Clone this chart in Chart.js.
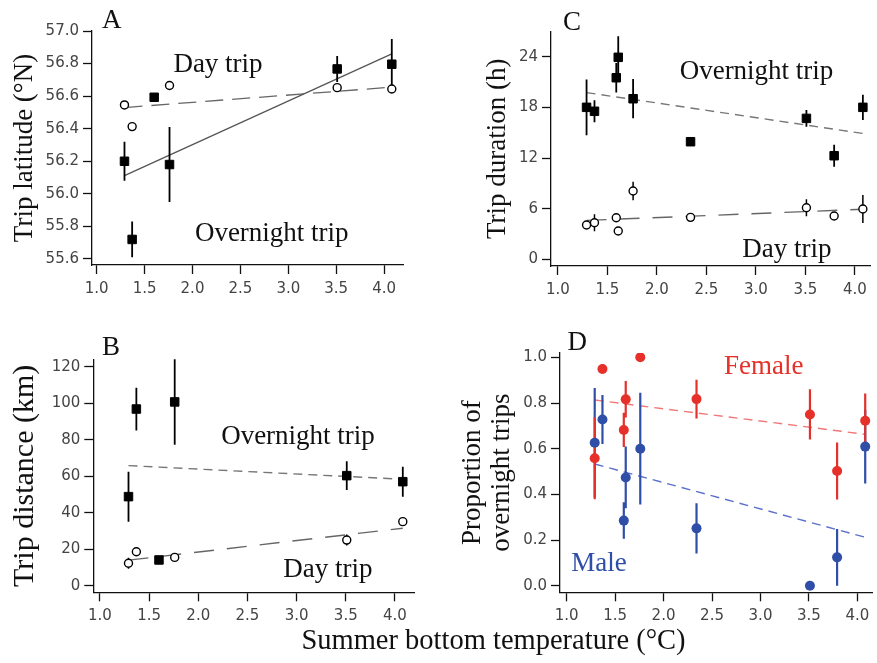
<!DOCTYPE html>
<html><head><meta charset="utf-8">
<script src="https://cdn.jsdelivr.net/npm/chart.js@4.4.1/dist/chart.umd.min.js"></script>
<style>
html,body{margin:0;padding:0;background:#fff;width:877px;height:663px;overflow:hidden;}
.panel{position:absolute;}
#xtitle{position:absolute;left:55px;width:877px;top:624px;text-align:center;font-family:"Liberation Serif","Times New Roman",serif;font-size:28.5px;color:#111;line-height:32px;white-space:nowrap;}
</style></head><body>
<div class="panel" style="left:0;top:0;width:430px;height:305px"><canvas id="cA"></canvas></div>
<div class="panel" style="left:440px;top:0;width:437px;height:305px"><canvas id="cC"></canvas></div>
<div class="panel" style="left:0;top:320px;width:430px;height:315px"><canvas id="cB"></canvas></div>
<div class="panel" style="left:440px;top:320px;width:437px;height:315px"><canvas id="cD"></canvas></div>
<div id="xtitle">Summer bottom temperature (°C)</div>
<script>
// ---------- DATA ----------
const xTicks = [1.0, 1.5, 2.0, 2.5, 3.0, 3.5, 4.0];
const fitX = [1.29, 4.08];

// Panel A: trip latitude
const aYTicks = [55.6, 55.8, 56.0, 56.2, 56.4, 56.6, 56.8, 57.0];
const aDayX = [1.29, 1.37, 1.76, 3.51, 4.08];
const aDayY = [56.546, 56.413, 56.665, 56.652, 56.644];
const aOverX = [1.29, 1.37, 1.60, 1.76, 3.51, 4.08];
const aOverY = [56.20, 55.72, 56.593, 56.18, 56.767, 56.796];
const aOverErr = [0.12, 0.11, 0, 0.23, 0.08, 0.155];
const aDayFit = [56.53, 56.655];
const aOverFit = [56.112, 56.859];

// Panel B: trip distance
const bYTicks = [0, 20, 40, 60, 80, 100, 120];
const bOverX = [1.29, 1.37, 1.60, 1.76, 3.51, 4.08];
const bOverY = [48.8, 96.8, 14.1, 100.7, 60.3, 57.0];
const bOverErr = [13.7, 11.7, 0, 23.5, 7.9, 8.2];
const bDayX = [1.29, 1.37, 1.76, 3.51, 4.08];
const bDayY = [12.3, 18.6, 15.5, 25.0, 35.1];
const bDayErr = [3.0, 0, 0, 3.0, 0];
const bOverFit = [65.8, 58.3];
const bDayFit = [14.0, 31.5];

// Panel C: trip duration
const cYTicks = [0, 6, 12, 18, 24];
const cX = [1.29, 1.37, 1.59, 1.61, 1.76, 2.34, 3.51, 3.79, 4.08];
const cOverY = [18.03, 17.56, 21.54, 23.96, 19.05, 13.95, 16.72, 12.29, 18.03];
const cOverErr = [3.3, 1.3, 1.75, 2.5, 2.33, 0, 1.0, 1.3, 1.5];
const cDayY = [4.07, 4.34, 4.93, 3.36, 8.1, 4.98, 6.12, 5.14, 5.97];
const cDayErr = [0, 1.0, 0, 0, 1.1, 0, 1.0, 0, 1.65];
const cOverFit = [19.78, 14.93];
const cDayFit = [4.62, 5.94];

// Panel D: proportion of overnight trips
const dYTicks = [0.0, 0.2, 0.4, 0.6, 0.8, 1.0];
const dX = [1.29, 1.37, 1.59, 1.61, 1.76, 2.34, 3.51, 3.79, 4.08];
const femaleY = [0.558, 0.949, 0.682, 0.816, 1.0, 0.817, 0.75, 0.502, 0.722];
const femaleErr = [0.18, 0.02, 0.075, 0.08, 0, 0.085, 0.11, 0.125, 0.12];
const maleY = [0.626, 0.728, 0.285, 0.474, 0.6, 0.251, 0.0, 0.124, 0.609];
const maleErr = [0.24, 0.107, 0.08, 0.135, 0.245, 0.11, 0, 0.124, 0.162];
const femaleFit = [0.813, 0.663];
const maleFit = [0.533, 0.212];

// ---------- STYLE / LAYOUT ----------
const SERIF = '"Liberation Serif","Times New Roman",serif';
const SANS = '"DejaVu Sans",Verdana,sans-serif';
const RED = '#e5312a', BLUE = '#2e4ea8';

const pts = (xs, ys) => xs.map((x, i) => ({x, y: ys[i]}));
const errPts = (xs, ys, es) => xs.flatMap((x, i) => es[i] > 0 ? [{x, y: ys[i] - es[i]}, {x, y: ys[i] + es[i]}, {x, y: null}] : []);

function squares(xs, ys) {
  return {data: pts(xs, ys), pointStyle: 'rect', pointRadius: 6, backgroundColor: '#000', borderColor: '#000', borderWidth: 1, order: 0};
}
function circles(xs, ys) {
  return {data: pts(xs, ys), pointStyle: 'circle', pointRadius: 4, backgroundColor: '#fff', borderColor: '#000', borderWidth: 1.4, order: 0};
}
function dots(xs, ys, c, ord) {
  return {data: pts(xs, ys), pointStyle: 'circle', pointRadius: 5, backgroundColor: c, borderColor: c, borderWidth: 0, order: ord};
}
function errbars(xs, ys, es, c, w, ord) {
  return {data: errPts(xs, ys, es), showLine: true, spanGaps: false, pointRadius: 0, borderColor: c, borderWidth: w, order: ord};
}
function fitLine(ys, c, dash, w) {
  return {data: pts(fitX, ys), showLine: true, pointRadius: 0, borderColor: c, borderDash: dash, borderWidth: w, order: 5};
}

function textPlugin(items) {
  return {
    id: 'panelTexts',
    afterDraw(chart) {
      const {ctx, scales: {x, y}} = chart;
      ctx.save();
      items.forEach(t => {
        ctx.font = (t.size || 27) + 'px ' + SERIF;
        ctx.fillStyle = t.color || '#111';
        ctx.textAlign = 'center';
        ctx.textBaseline = 'alphabetic';
        ctx.fillText(t.text, x.getPixelForValue(t.x), y.getPixelForValue(t.y));
      });
      ctx.restore();
    }
  };
}

function axisCommon() {
  return {
    grid: {drawOnChartArea: false, drawTicks: true, tickLength: 9, tickWidth: 1.3, tickColor: '#111'},
    border: {display: true, color: '#111', width: 1.3}
  };
}

function makeChart(id, o) {
  new Chart(document.getElementById(id), {
    type: 'scatter',
    data: {datasets: o.datasets},
    options: {
      responsive: true, maintainAspectRatio: false, animation: false, events: [],
      layout: {padding: o.pad},
      plugins: {legend: {display: false}, tooltip: {enabled: false}},
      scales: {
        x: Object.assign(axisCommon(), {
          type: 'linear', position: 'bottom', min: o.xMin, max: o.xMax,
          afterBuildTicks: s => { s.ticks = xTicks.map(v => ({value: v})); },
          afterFit: s => { s.height = 36; },
          ticks: {font: {family: SANS, size: 15}, color: '#444', padding: 6, maxRotation: 0, autoSkip: false, callback: v => Number(v).toFixed(1)}
        }),
        y: Object.assign(axisCommon(), {
          type: 'linear', position: 'left', min: o.yMin, max: o.yMax,
          afterBuildTicks: s => { s.ticks = o.yTicks.map(v => ({value: v})); },
          afterFit: s => { s.width = o.yW; },
          ticks: {font: {family: SANS, size: 15}, color: '#444', padding: 4, autoSkip: false, callback: v => Number(v).toFixed(o.yDec)},
          title: {display: true, text: o.yTitle, color: '#111', font: {family: SERIF, size: o.tSize, lineHeight: o.tLH}, padding: {top: o.tPad, bottom: 0}}
        })
      }
    },
    plugins: [textPlugin(o.texts)]
  });
}

// Panel A
makeChart('cA', {
  pad: {left: 0, top: 31, right: 27, bottom: 4}, yW: 92,
  xMin: 0.951, xMax: 4.197, yMin: 55.563, yMax: 57.0, yTicks: aYTicks, yDec: 1,
  yTitle: 'Trip latitude (°N)', tSize: 27, tLH: 1.2, tPad: 9,
  datasets: [
    squares(aOverX, aOverY), circles(aDayX, aDayY),
    errbars(aOverX, aOverY, aOverErr, '#000', 1.8, 1),
    fitLine(aOverFit, '#555', [], 1.3), fitLine(aDayFit, '#666', [18, 9], 1.3)
  ],
  texts: [
    {text: 'A', x: 1.157, y: 57.017},
    {text: 'Day trip', x: 2.266, y: 56.75},
    {text: 'Overnight trip', x: 2.827, y: 55.713}
  ]
});

// Panel B
makeChart('cB', {
  pad: {left: 0, top: 39.3, right: 16, bottom: 6.7}, yW: 93.3,
  xMin: 0.932, xMax: 4.194, yMin: -3.62, yMax: 124.05, yTicks: bYTicks, yDec: 0,
  yTitle: 'Trip distance (km)', tSize: 30, tLH: 1.2, tPad: 7,
  datasets: [
    squares(bOverX, bOverY), circles(bDayX, bDayY),
    errbars(bOverX, bOverY, bOverErr, '#000', 1.8, 1),
    errbars(bDayX, bDayY, bDayErr, '#000', 1.5, 1),
    fitLine(bOverFit, '#777', [9, 6], 1.4), fitLine(bDayFit, '#666', [20, 13], 1.4)
  ],
  texts: [
    {text: 'B', x: 1.112, y: 126.4},
    {text: 'Overnight trip', x: 3.014, y: 77.6},
    {text: 'Day trip', x: 3.319, y: 4.93}
  ]
});

// Panel C
makeChart('cC', {
  pad: {left: 0, top: 31.7, right: 0, bottom: 3}, yW: 111,
  xMin: 0.931, xMax: 4.152, yMin: -0.79, yMax: 27.0, yTicks: cYTicks, yDec: 0,
  yTitle: 'Trip duration (h)', tSize: 27, tLH: 1.2, tPad: 42,
  datasets: [
    squares(cX, cOverY), circles(cX, cDayY),
    errbars(cX, cOverY, cOverErr, '#000', 1.8, 1),
    errbars(cX, cDayY, cDayErr, '#000', 1.5, 1),
    fitLine(cOverFit, '#777', [9, 6], 1.4), fitLine(cDayFit, '#666', [20, 13], 1.4)
  ],
  texts: [
    {text: 'C', x: 1.143, y: 27.2},
    {text: 'Overnight trip', x: 3.006, y: 21.39},
    {text: 'Day trip', x: 3.312, y: 0.31}
  ]
});

// Panel D
makeChart('cD', {
  pad: {left: 0, top: 33, right: 0, bottom: 6.7}, yW: 120,
  xMin: 0.932, xMax: 4.150, yMin: -0.029, yMax: 1.019, yTicks: dYTicks, yDec: 1,
  yTitle: ['Proportion of', 'overnight trips'], tSize: 27, tLH: 1.08, tPad: 18.5,
  datasets: [
    dots(dX, femaleY, RED, 0), dots(dX, maleY, BLUE, 1),
    errbars(dX, femaleY, femaleErr, RED, 2.2, 2),
    errbars(dX, maleY, maleErr, BLUE, 2.2, 3),
    fitLine(femaleFit, '#f07878', [9, 6], 1.4), fitLine(maleFit, '#5a70cc', [9, 6], 1.4)
  ],
  texts: [
    {text: 'D', x: 1.11, y: 1.032},
    {text: 'Female', x: 3.034, y: 0.927, color: RED},
    {text: 'Male', x: 1.333, y: 0.066, color: BLUE}
  ]
});
</script>
</body></html>
